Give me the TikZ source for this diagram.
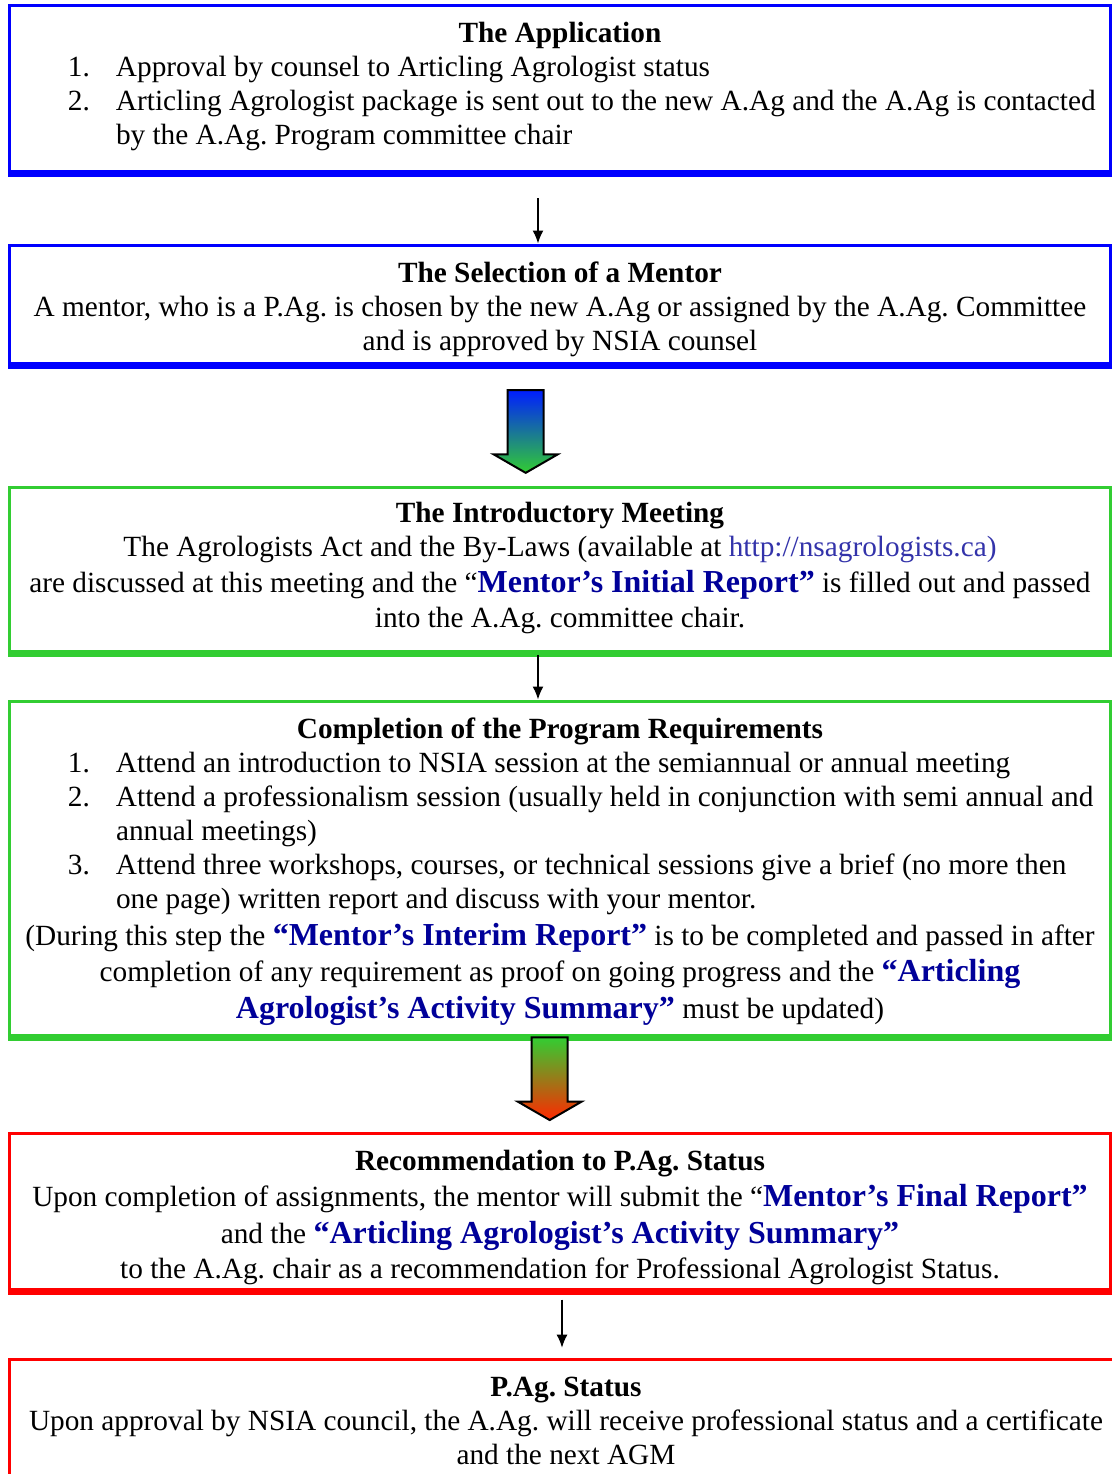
\documentclass[tikz,border=0pt]{standalone}
\usepackage{fontspec}
\setmainfont{Liberation Serif}
\usetikzlibrary{positioning,shapes.arrows,arrows.meta}

\definecolor{agblue}{RGB}{0,0,255}
\definecolor{aggreen}{RGB}{50,205,50}
\definecolor{agred}{RGB}{255,0,0}
\definecolor{arrowblue}{RGB}{0,30,255}
\definecolor{arrowred}{RGB}{255,40,0}
\definecolor{reportblue}{RGB}{0,0,153}
\definecolor{linkblue}{RGB}{51,51,170}

% bold blue report titles
\newcommand{\report}[1]{{\fontsize{16pt}{17pt}\selectfont\bfseries\color{reportblue}#1}}
% numbered list lines inside a centred node
\newcommand{\listitem}[2]{\hspace*{32pt}\makebox[24pt][l]{#1}#2\hfill\null}
\newcommand{\listmore}[1]{\hspace*{56pt}#1\hfill\null}

\begin{document}
\begin{tikzpicture}[
     x = 0.5pt, y = -0.5pt, % one unit is one pixel of the page
     > = {Latex[length=6.5pt,width=5.5pt]}, % arrow head style
     line width = 0.75pt
 ]

 \tikzstyle{stepbox} = [
     draw,
     line width = 1.5pt,
     minimum width = 550.5pt,
     inner sep = 0pt,
     outer sep = 0pt
 ]
 \tikzstyle{steptext} = [
     text width = 556pt,
     align = flush center,
     inner sep = 0pt,
     font = \fontsize{14.65pt}{17pt}\selectfont\frenchspacing
 ]
 \tikzstyle{gradarrow} = [
     single arrow,
     shape border rotate = 270,
     draw = black,
     line width = 1pt,
     text width = 17pt,
     minimum height = 41.35pt,
     single arrow head extend = 7pt,
     single arrow tip angle = 120,
     inner sep = 0pt
 ]

 \useasboundingbox (0,0) rectangle (1112,1474);
 \clip (0,0) rectangle (1112,1474);

 % the boxes
 \node[stepbox, draw=agblue, minimum height=83.95pt] (application) at (560,89.75) {};
 \node[stepbox, draw=agblue, minimum height=60.15pt] (mentor) at (560,305.65) {};
 \node[stepbox, draw=aggreen, minimum height=83.2pt] (meeting) at (560,570.7) {};
 \node[stepbox, draw=aggreen, minimum height=168.2pt] (requirements) at (560,869.7) {};
 \node[stepbox, draw=agred, minimum height=79.1pt] (recommendation) at (560,1212.6) {};
 \node[stepbox, draw=agred, minimum height=80pt, minimum width=556.5pt] (status) at (566,1439.7) {};

 % thick lower edges
 \foreach \b/\c in {application/agblue, mentor/agblue, meeting/aggreen,
                    requirements/aggreen, recommendation/agred}
     \draw[\c, line width=3.5pt] ([xshift=-0.75pt]\b.south west) -- ([xshift=0.75pt]\b.south east);

 % the texts
 \node[steptext, below=6pt of application.north] (applicationtext) {\strut\textbf{The Application}\\
     \listitem{1.}{Approval by counsel to Articling Agrologist status}\\
     \listitem{2.}{Articling Agrologist package is sent out to the new A.Ag and the A.Ag is contacted}\\
     \listmore{by the A.Ag. Program committee chair}};

 \node[steptext, below=6pt of mentor.north] (mentortext) {\strut\textbf{The Selection of a Mentor}\\
     A mentor, who is a P.Ag. is chosen by the new A.Ag or assigned by the A.Ag. Committee\\
     and is approved by NSIA counsel};

 \node[steptext, below=5pt of meeting.north] (meetingtext) {\strut\textbf{The Introductory Meeting}\\
     The Agrologists Act and the By-Laws (available at {\color{linkblue}http://nsagrologists.ca)}\\[1pt]
     are discussed at this meeting and the “\report{Mentor’s Initial Report”} is filled out and passed\\[0.5pt]
     into the A.Ag. committee chair.};

 \node[steptext, below=6pt of requirements.north] (requirementstext) {\strut\textbf{Completion of the Program Requirements}\\
     \listitem{1.}{Attend an introduction to NSIA session at the semiannual or annual meeting}\\
     \listitem{2.}{Attend a professionalism session (usually held in conjunction with semi annual and}\\
     \listmore{annual meetings)}\\
     \listitem{3.}{Attend three workshops, courses, or technical sessions give a brief (no more then}\\
     \listmore{one page) written report and discuss with your mentor.}\\[1.5pt]
     (During this step the \report{“Mentor’s Interim Report”} is to be completed and passed in after\\[1pt]
     completion of any requirement as proof on going progress and the \report{“Articling}\\[1.5pt]
     \report{Agrologist’s Activity Summary”} must be updated)};

 \node[steptext, below=6pt of recommendation.north] (recommendationtext) {\strut\textbf{Recommendation to P.Ag. Status}\\[1pt]
     Upon completion of assignments, the mentor will submit the “\report{Mentor’s Final Report”}\\[1.5pt]
     and the \report{“Articling Agrologist’s Activity Summary”}\\[0.5pt]
     to the A.Ag. chair as a recommendation for Professional Agrologist Status.};

 \node[steptext, below=6pt of status.north] (statustext) {\strut\textbf{P.Ag. Status}\\
     Upon approval by NSIA council, the A.Ag. will receive professional status and a certificate\\
     and the next AGM};

 % block arrows
 \node[gradarrow, top color=arrowblue, bottom color=aggreen] (bluegreen) at (525.7,426.3) {};
 \node[gradarrow, top color=aggreen, bottom color=arrowred] (greenred) at (549.7,1073.5) {};

 % thin arrows
 \draw[->, shorten <=12.2pt, shorten >=1pt] ([xshift=-11pt]application.south) -- ([xshift=-11pt]mentor.north);
 \draw[->, shorten <=0.5pt, shorten >=1pt] ([xshift=-11pt]meeting.south) -- ([xshift=-11pt]requirements.north);
 \draw[->, shorten <=4pt, shorten >=6pt] ([xshift=1pt]recommendation.south) -- ([xshift=-2pt]status.north);
\end{tikzpicture}
\end{document}
